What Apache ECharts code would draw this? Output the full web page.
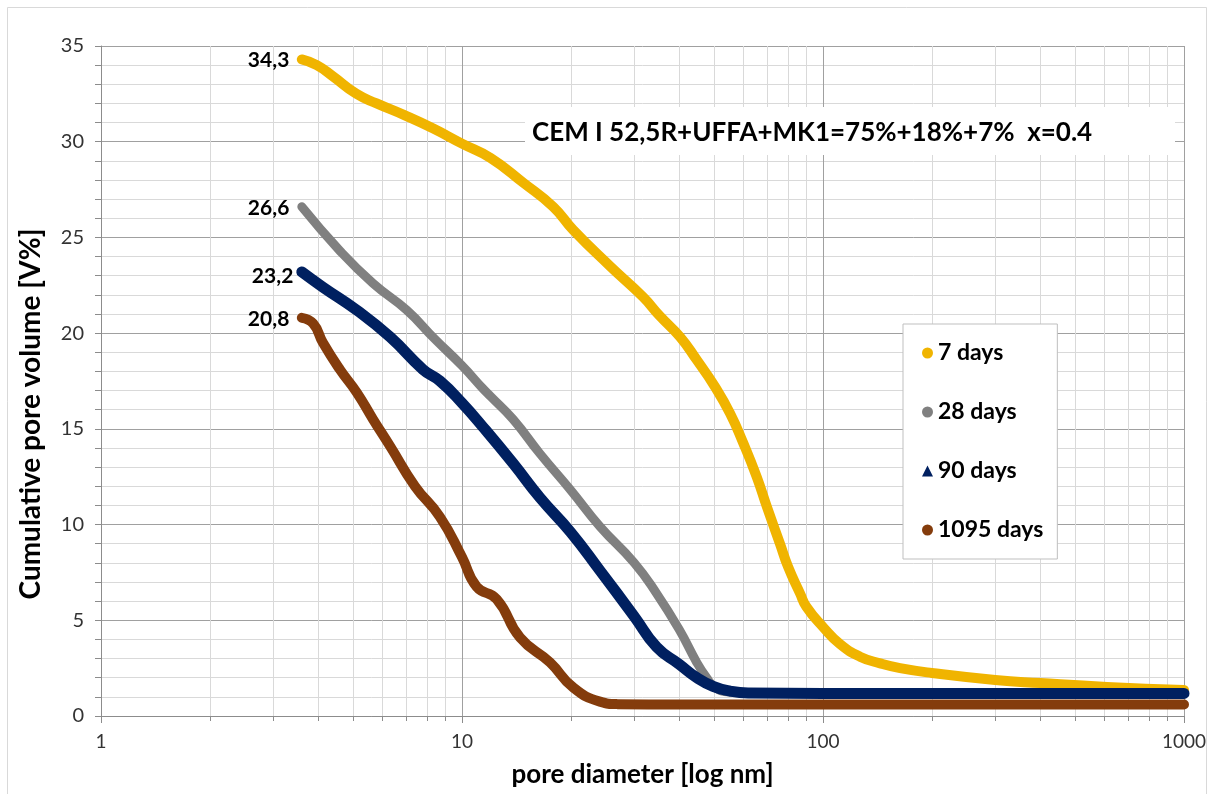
<!DOCTYPE html>
<html>
<head>
<meta charset="utf-8">
<script src="https://cdn.jsdelivr.net/npm/echarts@6/dist/echarts.min.js"></script>
<style>html,body{margin:0;padding:0;background:#fff}#c{width:1214px;height:794px}</style>
</head>
<body>
<div id="c"></div>
<script>
// ---- data ----
const seriesNames = ['7 days', '28 days', '90 days', '1095 days'];
const startLabels = ['34,3', '26,6', '23,2', '20,8'];
const xMinor = [2,3,4,5,6,7,8,9,20,30,40,50,60,70,80,90,200,300,400,500,600,700,800,900];
const yTicks = [0, 5, 10, 15, 20, 25, 30, 35];
const xTicks = [1, 10, 100, 1000];

const days7 = [[3.6,34.3],[3.96,34.0],[4.4,33.4],[5.1,32.5],[5.8,32.0],[6.9,31.4],[8.3,30.7],[10,29.9],[12,29.15],[14.8,27.85],[17.9,26.6],[20.3,25.4],[25.7,23.5],[31.7,21.9],[35.3,20.9],[40.2,19.8],[44.7,18.6],[50.2,17.2],[55.3,15.8],[60,14.3],[65.5,12.5],[70,10.9],[76,9.0],[80,7.8],[86.4,6.4],[90,5.7],[100,4.65],[111.5,3.75],[126.6,3.1],[144,2.75],[163.5,2.5],[200,2.25],[300,1.88],[400,1.72],[612,1.52],[1000,1.36]];
const days28 = [[3.6,26.6],[4.59,24.3],[5.67,22.6],[7.03,21.2],[8.4,19.7],[10,18.3],[11.43,17.1],[12,16.7],[13.85,15.5],[16.45,13.7],[20,11.8],[24.1,9.9],[30,8.0],[34.6,6.4],[40,4.5],[44.7,2.8],[47.6,2.0],[50.2,1.5],[55,1.25],[70,1.2],[100,1.2],[200,1.2],[500,1.2],[1000,1.2]];
const days90 = [[3.6,23.2],[4.12,22.4],[5.11,21.2],[6.32,19.8],[7.8,18.1],[8.69,17.5],[10,16.35],[11.43,15.1],[13.85,13.2],[16.45,11.4],[20,9.6],[24.1,7.6],[30,5.2],[34.6,3.6],[40,2.7],[44.7,2.0],[49.6,1.55],[55.3,1.3],[62,1.2],[100,1.18],[200,1.18],[500,1.18],[1000,1.18]];
const days1095 = [[3.6,20.8],[3.87,20.5],[4.12,19.5],[4.59,18.1],[5.11,16.9],[5.67,15.5],[6.32,14.1],[7.41,12.0],[8.69,10.4],[10,8.3],[10.98,6.75],[12.48,6.1],[14.48,4.1],[17.53,2.8],[20.3,1.5],[24.1,0.75],[27,0.62],[40,0.6],[100,0.6],[300,0.6],[1000,0.6]];

const allData = [days7, days28, days90, days1095];
const colors = ['#F0B400', '#808080', '#002060', '#843C0C'];
const widths = [10, 9, 11, 10];
const icons = ['circle', 'circle', 'triangle', 'circle'];
const FONT = 'Lato';

const chart = echarts.init(document.getElementById('c'), null, {renderer: 'canvas'});

const lineSeries = allData.map((d, i) => ({
  name: seriesNames[i],
  type: 'line',
  data: d,
  smooth: 0.5,
  showSymbol: false,
  symbol: icons[i],
  z: 3 + i,
  itemStyle: {color: colors[i]},
  lineStyle: {color: colors[i], width: widths[i], cap: 'round', join: 'round'},
  markPoint: {
    silent: true,
    symbol: 'circle',
    symbolSize: 1,
    itemStyle: {color: 'rgba(0,0,0,0)'},
    label: {
      show: true, position: 'left', distance: 12,
      formatter: startLabels[i],
      color: '#000', fontFamily: FONT, fontWeight: 'bold', fontSize: 21,
      offset: i === 2 ? [4, 4] : [0, 1]
    },
    data: [{coord: d[0]}]
  }
}));

const minorSeries = {
  type: 'custom',
  silent: true,
  clip: false,
  z: 1,
  data: xMinor.map(v => [v, yTicks[0]]),
  encode: {x: 0, y: 1},
  renderItem: (params, api) => {
    const v = api.value(0);
    const top = api.coord([v, yTicks[yTicks.length - 1]]);
    const bot = api.coord([v, yTicks[0]]);
    const x = Math.round(top[0]) + 0.5;
    return {
      type: 'group',
      children: [
        {type: 'line', shape: {x1: x, y1: top[1], x2: x, y2: bot[1]}, style: {stroke: '#d9d9d9', lineWidth: 1}},
        {type: 'line', shape: {x1: x, y1: bot[1], x2: x, y2: bot[1] + 5}, style: {stroke: '#8c8c8c', lineWidth: 1}}
      ]
    };
  }
};

chart.setOption({
  animation: false,
  backgroundColor: '#fff',
  textStyle: {fontFamily: FONT},
  grid: {left: 101, right: 30, top: 46, bottom: 78, containLabel: false},
  xAxis: {
    type: 'log', logBase: 10, min: xTicks[0], max: xTicks[xTicks.length - 1],
    name: 'pore diameter [log nm]', nameLocation: 'middle', nameGap: 46,
    nameTextStyle: {fontFamily: FONT, fontWeight: 'bold', fontSize: 26, color: '#000'},
    axisLine: {show: true, lineStyle: {color: '#8c8c8c', width: 1}},
    axisTick: {show: true, length: 7, lineStyle: {color: '#8c8c8c'}},
    axisLabel: {fontFamily: FONT, fontSize: 19, color: '#333', margin: 16, formatter: v => String(v)},
    splitLine: {show: true, lineStyle: {color: '#a0a0a0', width: 1}},
    minorTick: {show: false}, minorSplitLine: {show: false}
  },
  yAxis: {
    type: 'value', min: yTicks[0], max: yTicks[yTicks.length - 1], interval: 5,
    axisLine: {show: true, lineStyle: {color: '#8c8c8c', width: 1}},
    axisTick: {show: true, length: 6, lineStyle: {color: '#8c8c8c'}},
    minorTick: {show: true, splitNumber: 5, length: 6, lineStyle: {color: '#8c8c8c'}},
    axisLabel: {fontFamily: FONT, fontSize: 20, color: '#333', margin: 17},
    splitLine: {show: true, lineStyle: {color: '#a0a0a0', width: 1}},
    minorSplitLine: {show: true, lineStyle: {color: '#d9d9d9', width: 1}}
  },
  legend: {
    orient: 'vertical', left: 903, top: 324,
    padding: [16, 14, 16, 19],
    itemGap: 33, itemWidth: 11, itemHeight: 11, itemTextGap: 8,
    backgroundColor: '#fff', borderColor: '#bfbfbf', borderWidth: 1, borderRadius: 0,
    textStyle: {fontFamily: FONT, fontWeight: 'bold', fontSize: 23, color: '#000', lineHeight: 26},
    data: seriesNames.map((n, i) => ({name: n, icon: icons[i]})),
    selectedMode: false
  },
  graphic: [
    {type: 'rect', z: -10, silent: true, shape: {x: 7.5, y: 7.5, width: 1199, height: 800}, style: {fill: null, stroke: '#d9d9d9', lineWidth: 1}},
    {type: 'rect', z: 100, silent: true, shape: {x: 525, y: 107, width: 650, height: 48}, style: {fill: '#fff'}},
    {type: 'text', z: 101, silent: true, x: 532, y: 133,
     style: {text: 'CEM I 52,5R+UFFA+MK1=75%+18%+7%  x=0.4', fontFamily: FONT, fontWeight: 'bold', fontSize: 26, fill: '#000', verticalAlign: 'middle', align: 'left'}},
    {type: 'text', z: 101, silent: true, x: 31, y: 414, rotation: Math.PI / 2,
     style: {text: 'Cumulative pore volume [V%]', fontFamily: FONT, fontWeight: 'bold', fontSize: 28, fill: '#000', verticalAlign: 'middle', align: 'center'}}
  ],
  series: [minorSeries, ...lineSeries]
});
</script>
</body>
</html>
